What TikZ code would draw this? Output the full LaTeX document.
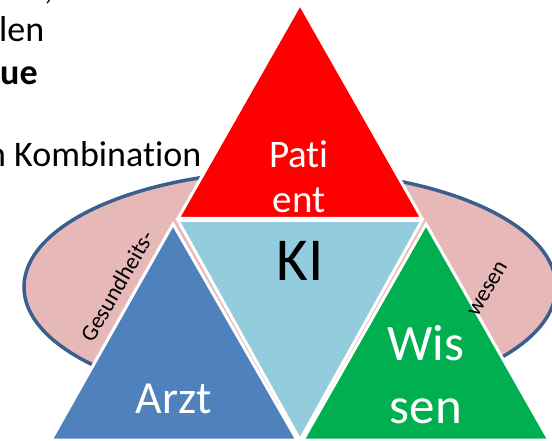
\documentclass[tikz,border=0pt]{standalone}
\usepackage{fontspec}
\setmainfont{Carlito}[Ligatures={TeX,NoCommon}]
\definecolor{cred}{HTML}{FF0000}
\definecolor{clight}{HTML}{93CDDD}
\definecolor{cblue}{HTML}{4F81BD}
\definecolor{cgreen}{HTML}{00B050}
\definecolor{cpink}{HTML}{E6B9B8}
\definecolor{cborder}{HTML}{3A5F8E}
\begin{document}
\begin{tikzpicture}[x=1pt,y=-1pt,
  tri/.style={draw=white, line width=3pt, line join=miter},
  ring/.style={fill=cpink, draw=cborder, line width=3.5pt},
  bigtxt/.style={inner sep=0pt, text=white},
  sidetxt/.style={inner sep=0pt, text=black, font=\fontsize{23}{27}\selectfont, rotate=60},
  bodytxt/.style={inner sep=0pt, anchor=base west, text=black, font=\fontsize{36}{43}\selectfont}]
\useasboundingbox (0,0) rectangle (552,441);
% ellipse behind
\draw[ring] (290,287) ellipse [x radius=266pt, y radius=116pt];
% triangles
\draw[tri, fill=clight] (178,220.5) -- (422,220.5) -- (300,440) -- cycle;
\draw[tri, fill=cred] (300,4) -- (422,218.5) -- (178,218.5) -- cycle;
\draw[tri, fill=cblue] (173,224) -- (297,440) -- (51,440) -- cycle;
\draw[tri, fill=cgreen] (426,224) -- (549,440) -- (303,440) -- cycle;
% triangle labels
\node[bigtxt, anchor=base, font=\fontsize{39}{47}\selectfont] (pati) at (299,168) {Pati};
\node[bigtxt, anchor=base, font=\fontsize{39}{47}\selectfont] (ent) at (299,213) {ent};
\node[inner sep=0pt, anchor=base, text=black, font=\fontsize{61}{73}\selectfont] (ki) at (300,280) {KI};
\node[bigtxt, anchor=base, font=\fontsize{46}{55}\selectfont] (arzt) at (174,413) {Arzt};
\node[bigtxt, anchor=base, font=\fontsize{51}{62}\selectfont] (wis) at (426,360) {Wis};
\node[bigtxt, anchor=base, font=\fontsize{51}{62}\selectfont] (sen) at (426,423) {sen};
% ring labels
\node[sidetxt] (ges) at (117,286) {Gesundheits-};
\node[sidetxt] (wesen) at (488,289) {wesen};
% body text (cut off at the left)
\node[bodytxt] (l0) at (44,0) {,};
\node[bodytxt] (l1) at (-1,42) {len};
\node[bodytxt, font=\fontsize{36}{43}\selectfont\bfseries] (l2) at (0,85) {ue};
\node[bodytxt] (l3) at (-13,167) {n Kombination};
\end{tikzpicture}
\end{document}
